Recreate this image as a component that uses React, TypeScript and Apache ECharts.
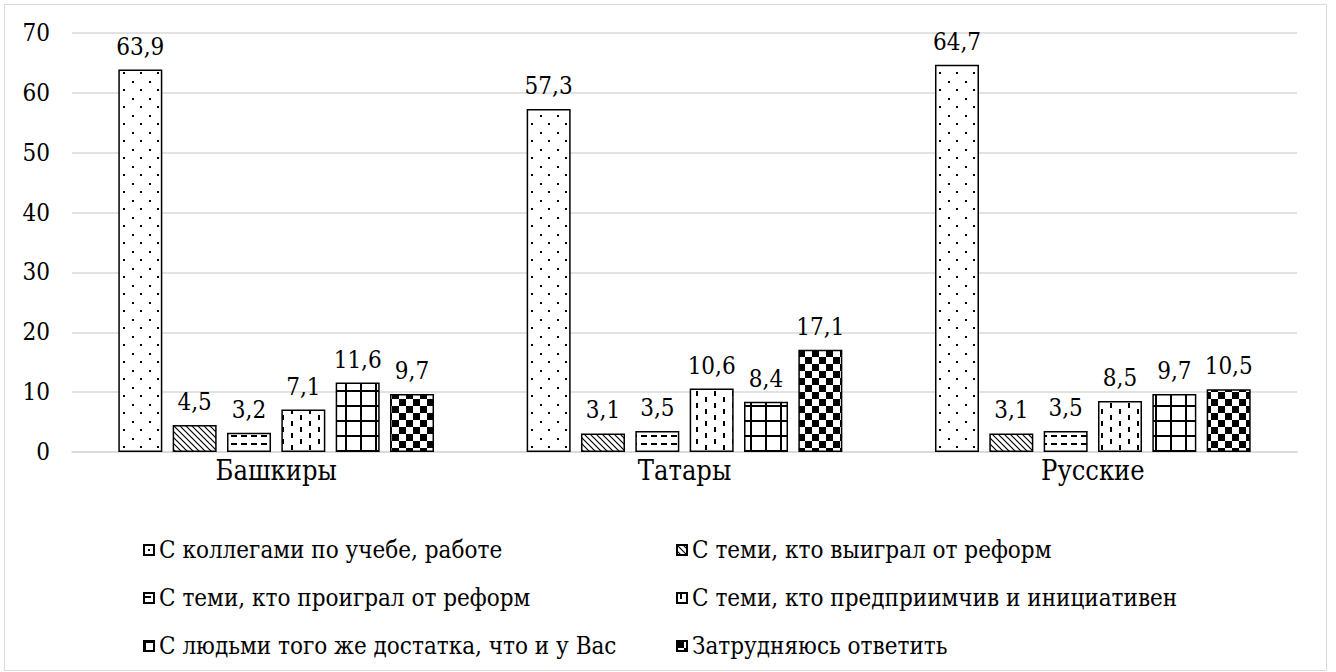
import React, { useEffect, useRef } from "react";
import * as echarts from "echarts";

const categories = ["Башкиры", "Татары", "Русские"];
const seriesNames = [
  "С коллегами по учебе, работе",
  "С теми, кто выиграл от реформ",
  "С теми, кто проиграл от реформ",
  "С теми, кто предприимчив и инициативен",
  "С людьми того же достатка, что и у Вас",
  "Затрудняюсь ответить",
];
const colleagues = [63.9, 57.3, 64.7];
const winners = [4.5, 3.1, 3.1];
const losers = [3.2, 3.5, 3.5];
const enterprising = [7.1, 10.6, 8.5];
const sameIncome = [11.6, 8.4, 9.7];
const hardToSay = [9.7, 17.1, 10.5];
const seriesValues = [colleagues, winners, losers, enterprising, sameIncome, hardToSay];
const yTicks = { min: 0, max: 70, interval: 10 };

const FONT = "DejaVu Serif Condensed, DejaVu Serif";

function tile(w: number, h: number, inner: string) {
  const svg = `<svg xmlns="http://www.w3.org/2000/svg" width="${w}" height="${h}" shape-rendering="crispEdges"><rect width="${w}" height="${h}" fill="#ffffff"/>${inner}</svg>`;
  return {
    image: "data:image/svg+xml;charset=utf-8," + encodeURIComponent(svg),
    repeat: "repeat",
    imageWidth: w,
    imageHeight: h,
  };
}

const patterns = [
  tile(17, 17, `<rect x="4" y="4" width="2" height="2" fill="#000"/><rect x="12.5" y="12.5" width="2" height="2" fill="#000"/>`),
  tile(6, 6, `<path d="M-3,-3 L9,9 M-3,3 L3,9 M3,-3 L9,3" stroke="#000" stroke-width="1.2" shape-rendering="auto"/>`),
  tile(10, 8, `<rect x="1" y="3" width="6" height="1.6" fill="#000"/>`),
  tile(18, 12, `<rect x="3" y="1" width="1.6" height="5" fill="#000"/><rect x="12" y="7" width="1.6" height="5" fill="#000"/>`),
  tile(15, 15, `<rect x="0" y="0" width="15" height="1.6" fill="#000"/><rect x="0" y="0" width="1.6" height="15" fill="#000"/>`),
  tile(14, 14, `<rect x="0" y="0" width="7" height="7" fill="#000"/><rect x="7" y="7" width="7" height="7" fill="#000"/>`),
];

export default function App() {
  const ref = useRef<HTMLDivElement>(null);
  useEffect(() => {
    document.body.style.margin = "0";
    const chart = echarts.init(ref.current!, null, { renderer: "svg" });
    const series = seriesNames.map((name, i) => ({
      name,
      type: "bar",
      data: seriesValues[i],
      barWidth: 44,
      barGap: "23.5%",
      itemStyle: { color: patterns[i] as any, borderColor: "#000", borderWidth: 1.5 },
      label: {
        show: true,
        position: "top",
        distance: 11,
        color: "#000",
        fontFamily: FONT,
        fontSize: 24,
        formatter: (p: any) => String(p.value).replace(".", ","),
      },
    }));
    const legendCommon = {
      orient: "vertical",
      top: 533,
      itemWidth: 10,
      itemHeight: 10,
      itemGap: 24,
      icon: "rect",
      textStyle: { fontFamily: FONT, fontSize: 24, color: "#000", lineHeight: 23 },
    };
    chart.setOption({
      animation: false,
      backgroundColor: "#fff",
      textStyle: { fontFamily: FONT },
      graphic: [
        {
          type: "rect",
          shape: { x: 4.5, y: 4.5, width: 1322, height: 666 },
          style: { fill: "none", stroke: "#d9d9d9", lineWidth: 1 },
          silent: true,
        },
      ],
      legend: [
        { ...legendCommon, left: 138, data: [seriesNames[0], seriesNames[2], seriesNames[4]] },
        { ...legendCommon, left: 671, data: [seriesNames[1], seriesNames[3], seriesNames[5]] },
      ],
      grid: { left: 72, right: 39, top: 33, bottom: 220 },
      xAxis: {
        type: "category",
        data: categories,
        axisTick: { show: false },
        axisLine: { lineStyle: { color: "#d9d9d9", width: 1.5 } },
        axisLabel: { color: "#000", fontFamily: FONT, fontSize: 27, margin: 5 },
      },
      yAxis: {
        type: "value",
        min: yTicks.min,
        max: yTicks.max,
        interval: yTicks.interval,
        axisLine: { show: false },
        axisTick: { show: false },
        splitLine: { lineStyle: { color: "#d9d9d9", width: 1.5 } },
        axisLabel: { color: "#000", fontFamily: FONT, fontSize: 24, margin: 22 },
      },
      series,
    });
    return () => chart.dispose();
  }, []);
  return <div ref={ref} style={{ width: 1336, height: 672, position: "absolute", left: 0, top: 0 }} />;
}
